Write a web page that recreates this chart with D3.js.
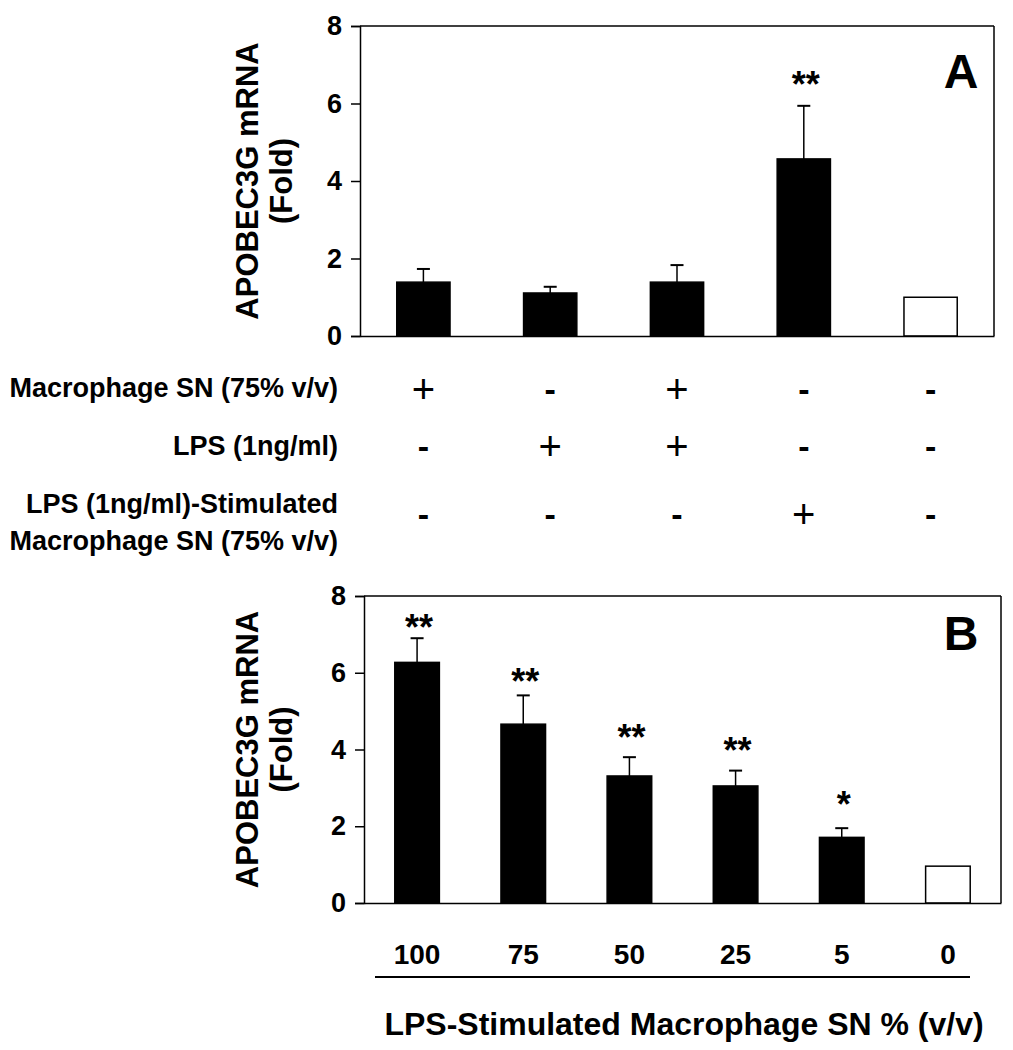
<!DOCTYPE html>
<html><head><meta charset="utf-8">
<script src="https://cdn.jsdelivr.net/npm/d3@7"></script>
<style>
body{margin:0;background:#fff}
text{font-family:"Liberation Sans",Arial,Helvetica,sans-serif;font-weight:bold;fill:#000}
</style>
</head><body>
<svg id="c" width="1013" height="1050"></svg>
<script>
// ---- Data ----
const catsA = ["g1","g2","g3","g4","g5"];
const valuesA = [1.39, 1.11, 1.39, 4.57, 1.0];
const errA = [0.34, 0.16, 0.44, 1.37, 0];
const fillA = ["black","black","black","black","white"];
const starsA = ["", "", "", "**", ""];
const starPosA = [null, null, null, 6.71, null];

const rowLabels = [["Macrophage SN (75% v/v)"], ["LPS (1ng/ml)"], ["LPS (1ng/ml)-Stimulated", "Macrophage SN (75% v/v)"]];
const rowSigns = [["+","-","+","-","-"], ["-","+","+","-","-"], ["-","-","-","+","-"]];

const catsB = ["100","75","50","25","5","0"];
const valuesB = [6.27, 4.66, 3.31, 3.05, 1.71, 0.96];
const errB = [0.63, 0.75, 0.49, 0.40, 0.24, 0];
const fillB = ["black","black","black","black","black","white"];
const starsB = ["**","**","**","**","*",""];
const starPosB = [7.4, 5.97, 4.52, 4.18, 2.77, null];

const yTicks = [0, 2, 4, 6, 8];
const yTitle = ["APOBEC3G mRNA", "(Fold)"];
const xTitleB = "LPS-Stimulated Macrophage SN % (v/v)";

// ---- Layout ----
const svg = d3.select("#c");

function panel(cats, vals, errs, fills, stars, starPos, L, R, top, bottom, letter, letterY) {
  const g = svg.append("g");
  const x = d3.scaleBand().domain(cats).range([L, R]).paddingInner(0.58).paddingOuter(0.29);
  const y = d3.scaleLinear().domain([0, 8]).range([bottom, top]);

  g.selectAll("rect.bar").data(cats).enter().append("rect")
    .attr("x", d => x(d)).attr("width", x.bandwidth())
    .attr("y", (d,i) => y(vals[i])).attr("height", (d,i) => y(0) - y(vals[i]))
    .attr("fill", (d,i) => fills[i]).attr("stroke", "#000").attr("stroke-width", 1.5);

  const capW = 13;
  cats.forEach((d,i) => {
    if (!errs[i]) return;
    const cx = x(d) + x.bandwidth()/2;
    g.append("line").attr("x1", cx).attr("x2", cx)
      .attr("y1", y(vals[i])).attr("y2", y(vals[i] + errs[i]))
      .attr("stroke", "#000").attr("stroke-width", 1.5);
    g.append("line").attr("x1", cx - capW/2).attr("x2", cx + capW/2)
      .attr("y1", y(vals[i] + errs[i])).attr("y2", y(vals[i] + errs[i]))
      .attr("stroke", "#000").attr("stroke-width", 2);
  });

  cats.forEach((d,i) => {
    if (!stars[i]) return;
    g.append("text").attr("x", x(d) + x.bandwidth()/2 + 2).attr("y", y(starPos[i]))
      .attr("dy", "0.57em").attr("text-anchor", "middle")
      .style("font-size", "36px").text(stars[i]);
  });

  g.append("line").attr("x1", L).attr("x2", R).attr("y1", top).attr("y2", top).attr("stroke","#000").attr("stroke-width",1.5);
  g.append("line").attr("x1", R).attr("x2", R).attr("y1", top).attr("y2", bottom).attr("stroke","#000").attr("stroke-width",1.5);

  const ax = g.append("g").attr("transform", `translate(${L},0)`)
    .call(d3.axisLeft(y).tickValues(yTicks).tickSize(9).tickPadding(9).tickFormat(d3.format("d")));
  ax.select(".domain").attr("stroke-width", 1.5);
  ax.selectAll(".tick line").attr("stroke-width", 1.5);
  ax.selectAll("text").style("font-size", "27px").style("font-family", '"Liberation Sans",Arial,sans-serif').style("font-weight","bold");

  const bx = g.append("g").attr("transform", `translate(0,${bottom})`)
    .call(d3.axisBottom(x).tickSize(0).tickFormat(""));
  bx.select(".domain").attr("stroke-width", 1.5);

  const cy = (top + bottom) / 2;
  const xs = [247, 281];
  yTitle.forEach((t, k) => {
    g.append("text").attr("transform", `translate(${xs[k]},${cy}) rotate(-90)`)
      .attr("dy", "0.36em").attr("text-anchor", "middle")
      .style("font-size", "31px").text(t);
  });

  g.append("text").attr("x", 961).attr("y", letterY).attr("dy", "0.36em")
    .attr("text-anchor", "middle").style("font-size", "48px").text(letter);

  return x;
}

const xA = panel(catsA, valuesA, errA, fillA, starsA, starPosA, 360, 994, 26, 336, "A", 71);
const xB = panel(catsB, valuesB, errB, fillB, starsB, starPosB, 364, 1001, 596, 903, "B", 633);

// ---- treatment rows under panel A ----
const rowY = [389, 446, 514];
const labelLineY = [[387], [445], [503, 540]];
rowLabels.forEach((lines, r) => {
  lines.forEach((t, k) => {
    svg.append("text").attr("x", 338).attr("y", labelLineY[r][k]).attr("dy", "0.36em")
      .attr("text-anchor", "end").style("font-size", "27px").text(t);
  });
  rowSigns[r].forEach((s, i) => {
    svg.append("text").attr("x", xA(catsA[i]) + xA.bandwidth()/2).attr("y", rowY[r])
      .attr("dy", "0.36em").attr("text-anchor", "middle")
      .style("font-size", s === "+" ? "40px" : "34px")
      .style("font-weight", s === "+" ? "normal" : "bold").text(s);
  });
});

// ---- category labels under panel B ----
catsB.forEach(c => {
  svg.append("text").attr("x", xB(c) + xB.bandwidth()/2).attr("y", 954).attr("dy", "0.36em")
    .attr("text-anchor", "middle").style("font-size", "28px").text(c);
});
svg.append("line").attr("x1", 375).attr("x2", 970).attr("y1", 977).attr("y2", 977)
  .attr("stroke", "#000").attr("stroke-width", 2);
svg.append("text").attr("x", 684).attr("y", 1023).attr("dy", "0.36em")
  .attr("text-anchor", "middle").style("font-size", "32px").text(xTitleB);
</script>
</body></html>
